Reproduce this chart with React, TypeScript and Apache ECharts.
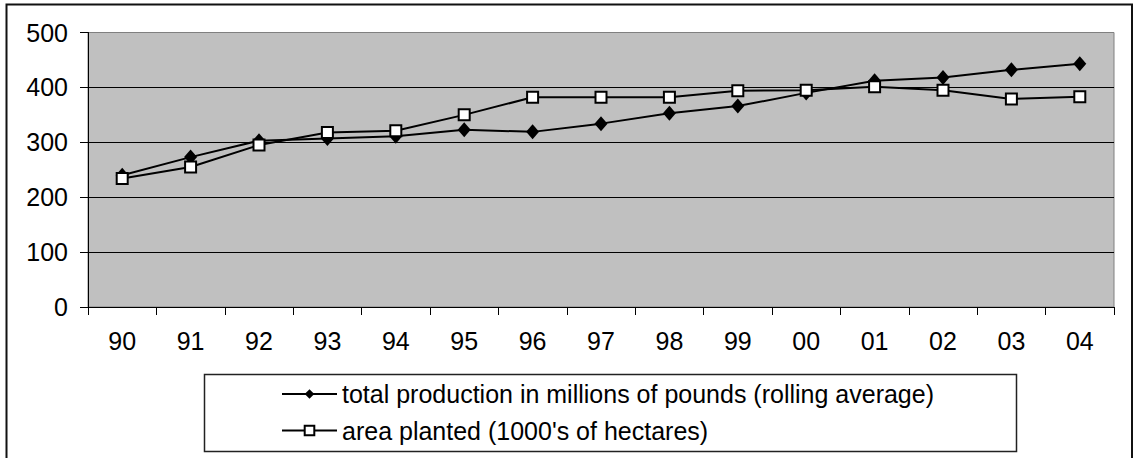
import React, { useEffect, useRef } from "react";
import * as echarts from "echarts";

const years = ["90", "91", "92", "93", "94", "95", "96", "97", "98", "99", "00", "01", "02", "03", "04"];
const production = [240, 273, 303, 307, 311, 323, 319, 334, 353, 366, 390, 412, 418, 432, 443];
const area = [234, 255, 295, 318, 321, 350, 382, 382, 382, 394, 395, 401, 395, 379, 383];
const seriesNames = [
  "total production in millions of pounds (rolling average)",
  "area planted (1000's of hectares)",
];

const FONT = 'Arial, "Liberation Sans", sans-serif';

export default function App() {
  const ref = useRef<HTMLDivElement>(null);
  useEffect(() => {
    const chart = echarts.init(ref.current!, null, { renderer: "svg" });
    chart.setOption({
      animation: false,
      backgroundColor: "#ffffff",
      textStyle: { fontFamily: FONT },
      grid: {
        left: 88,
        top: 32.5,
        right: 24,
        bottom: 151,
        show: true,
        backgroundColor: "#C0C0C0",
        borderColor: "#808080",
        borderWidth: 1,
      },
      xAxis: {
        type: "category",
        data: years,
        boundaryGap: true,
        axisLine: { lineStyle: { color: "#000", width: 1 } },
        axisTick: { show: true, length: 8, inside: false, lineStyle: { color: "#000" } },
        axisLabel: { color: "#000", fontSize: 25, fontFamily: FONT, margin: 21 },
        splitLine: { show: false },
      },
      yAxis: {
        type: "value",
        min: 0,
        max: 500,
        interval: 100,
        axisLine: { show: true, lineStyle: { color: "#000", width: 1 } },
        axisTick: { show: true, length: 8, lineStyle: { color: "#000" } },
        axisLabel: { color: "#000", fontSize: 25, fontFamily: FONT, margin: 20 },
        splitLine: {
          show: true,
          lineStyle: { color: ["#000", "#000", "#000", "#000", "#000", "#808080"], width: 1 },
        },
      },
      legend: {
        orient: "vertical",
        left: 281,
        top: 381.5,
        itemWidth: 55,
        itemHeight: 12,
        itemGap: 11.5,
        padding: 0,
        textStyle: { color: "#000", fontSize: 25, fontFamily: FONT },
        data: seriesNames,
      },
      graphic: [
        {
          type: "rect",
          shape: { x: 6.5, y: 4.5, width: 1125.5, height: 470 },
          style: { fill: "none", stroke: "#111", lineWidth: 2 },
          silent: true,
          z: 100,
        },
        {
          type: "rect",
          shape: { x: 204.5, y: 374.5, width: 812, height: 77 },
          style: { fill: "none", stroke: "#222", lineWidth: 1.5 },
          silent: true,
          z: 100,
        },
      ],
      series: [
        {
          name: seriesNames[0],
          type: "line",
          data: production,
          symbol: "diamond",
          symbolSize: [13, 15],
          lineStyle: { color: "#000", width: 2 },
          itemStyle: { color: "#000", borderColor: "#000", borderWidth: 0 },
          z: 3,
        },
        {
          name: seriesNames[1],
          type: "line",
          data: area,
          symbol: "rect",
          symbolSize: 11,
          lineStyle: { color: "#000", width: 2 },
          itemStyle: { color: "#fff", borderColor: "#000", borderWidth: 2 },
          z: 4,
        },
      ],
    });
    return () => chart.dispose();
  }, []);
  return (
    <div
      ref={ref}
      style={{ position: "absolute", left: 0, top: 0, width: 1138, height: 458 }}
    />
  );
}
